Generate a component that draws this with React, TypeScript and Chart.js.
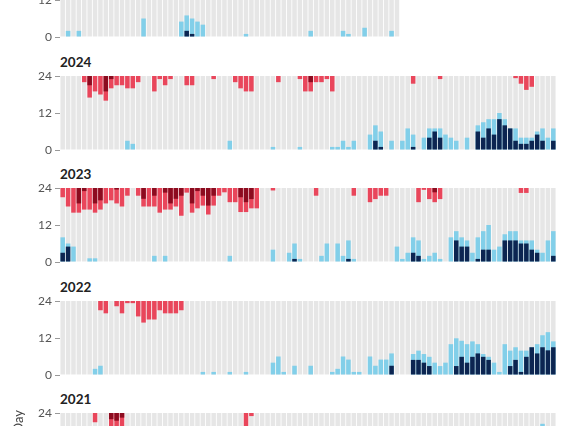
import React, { useEffect, useRef } from "react";
import { Chart, registerables } from "chart.js";

Chart.register(...registerables);

// ---------- data ----------
const N_DAYS = 92;
const dayLabels: string[] = Array.from({ length: N_DAYS }, (_, i) => `Day ${i + 1}`);
const yTicks = [0, 12, 24];

// [day index, hours]
const red2025: [number, number][] = [];
const dark2025: [number, number][] = [];
const blue2025: [number, number][] = [[1, 2], [3, 2], [15, 6], [22, 5], [23, 7], [24, 6], [25, 5], [26, 4], [34, 1], [46, 2], [52, 2], [53, 1], [56, 3], [61, 2]];
const navy2025: [number, number][] = [[23, 2], [24, 1]];

const red2024: [number, number][] = [[4, 2], [5, 7], [6, 5], [7, 6], [8, 8], [9, 4], [10, 3], [11, 3], [12, 4], [13, 4], [14, 2], [17, 5], [18, 1], [19, 3], [20, 1], [23, 3], [24, 3], [28, 1], [32, 2], [33, 4], [34, 5], [35, 5], [40, 2], [44, 1], [45, 5], [46, 5], [47, 2], [48, 2], [49, 1], [50, 5], [65, 2.5], [70, 1], [84, 0.7], [85, 2.5], [86, 4.5], [87, 3.5]];
const dark2024: [number, number][] = [[5, 3], [8, 5], [9, 1], [46, 2]];
const blue2024: [number, number][] = [[12, 3], [13, 2], [31, 3], [39, 1], [44, 1], [50, 1], [51, 1], [52, 3], [53, 1], [54, 3], [57, 5], [58, 8], [59, 6], [61, 3], [63, 3], [64, 7], [65, 5], [67, 4], [68, 7], [69, 7], [70, 7], [71, 5], [72, 4], [73, 3], [75, 4], [77, 8], [78, 9], [79, 10], [80, 10], [81, 12], [82, 10], [83, 7], [84, 7], [85, 4], [86, 4], [87, 4], [88, 6], [89, 7], [90, 4], [91, 7]];
const navy2024: [number, number][] = [[58, 3], [59, 1], [65, 1], [68, 4], [69, 6], [70, 4], [77, 6], [78, 4], [79, 7], [80, 5], [81, 10], [82, 8], [83, 7], [84, 3], [85, 2], [86, 2], [87, 3], [88, 5], [89, 3], [91, 3]];

const red2023: [number, number][] = [[0, 3], [1, 6], [2, 8], [3, 8], [4, 7], [5, 7], [6, 8], [7, 7], [8, 5], [9, 4], [10, 5], [11, 6], [12, 2.5], [14, 2.5], [15, 6], [16, 6], [17, 6], [18, 8], [19, 7], [20, 7], [21, 6], [22, 9], [23, 1.5], [24, 8], [25, 6.6], [26, 5.7], [27, 8.6], [28, 5.7], [29, 2.5], [30, 1.4], [31, 4.6], [32, 4.6], [33, 7.8], [34, 7.8], [35, 6.6], [36, 6.6], [39, 0.8], [47, 2.5], [54, 2.5], [57, 4.6], [58, 3.6], [59, 2.5], [60, 2.5], [66, 4.6], [67, 0.6], [68, 3.6], [69, 4.6], [70, 3.6], [85, 1.6], [86, 1.6]];
const dark2023: [number, number][] = [[3, 5], [4, 1], [6, 5], [7, 4], [10, 0.5], [15, 3.5], [17, 2.5], [19, 1.5], [20, 5], [21, 3.5], [22, 2.5], [24, 5], [25, 1], [26, 2.5], [27, 5.7], [28, 2.5], [33, 3], [34, 4.6], [35, 3.6], [69, 1.4]];
const blue2023: [number, number][] = [[0, 8], [1, 6], [2, 5], [5, 1.2], [6, 1.2], [17, 2], [19, 2], [31, 2], [39, 4], [42, 3], [43, 6], [44, 1], [48, 2], [49, 6], [51, 6], [52, 2], [53, 7], [54, 1], [62, 5], [63, 1], [64, 3], [65, 8], [66, 7], [67, 1], [68, 2], [69, 3], [70, 1], [72, 8], [73, 10], [74, 8], [75, 7], [76, 3], [77, 8], [78, 10], [79, 12], [80, 4], [81, 5], [82, 9], [83, 10], [84, 10], [85, 7], [86, 7], [87, 7], [88, 4], [89, 3], [90, 7], [91, 10]];
const navy2023: [number, number][] = [[0, 3], [1, 5], [43, 1], [53, 1], [65, 3], [66, 2], [73, 7], [74, 5], [75, 5], [77, 1], [78, 4], [79, 4], [82, 7], [83, 7], [84, 7], [85, 6], [86, 6], [87, 4], [88, 3], [91, 2]];

const red2022: [number, number][] = [[7, 3], [8, 4], [10, 1.7], [11, 4], [12, 0.7], [13, 0.7], [14, 5], [15, 7], [16, 6], [17, 6], [18, 3], [19, 4], [20, 4], [21, 4], [22, 3]];
const dark2022: [number, number][] = [];
const blue2022: [number, number][] = [[6, 2], [7, 3], [26, 1], [28, 1], [31, 1], [34, 1], [39, 4], [40, 6], [41, 1], [43, 3], [46, 3], [50, 1], [51, 2], [52, 6], [53, 5], [54, 1], [55, 1], [57, 6], [58, 3], [59, 5], [60, 5], [61, 7], [65, 6.8], [66, 7.9], [67, 6.8], [68, 5.9], [69, 4], [70, 2.9], [71, 4], [72, 10], [73, 11.9], [74, 11.1], [75, 10], [76, 10.9], [77, 10], [78, 6.8], [79, 5.9], [80, 4], [81, 1], [82, 10], [83, 7.9], [84, 9], [85, 7.9], [86, 7.9], [87, 9], [88, 10], [89, 12.9], [90, 13.9], [91, 10.9]];
const navy2022: [number, number][] = [[61, 3], [65, 4.9], [66, 4.9], [67, 4], [68, 2.9], [73, 2.9], [74, 5.9], [75, 4], [76, 5.9], [77, 7], [78, 5.9], [79, 4.9], [83, 2.9], [84, 4.9], [85, 1], [86, 5.9], [87, 9], [88, 7], [89, 9], [90, 8], [91, 9]];

const red2021: [number, number][] = [[6, 3], [9, 6], [10, 6], [11, 5], [34, 6], [35, 1]];
const dark2021: [number, number][] = [[9, 2], [10, 2.5], [11, 1.5]];
const blue2021: [number, number][] = [[89, 20.5]];
const navy2021: [number, number][] = [];

// ---------- layout / style ----------
const PLOT_H = 74;
const PAD = 12;
const COLORS = {
  bg: "#e6e6e6",
  red: "#e9465b",
  dark: "#8c0b1f",
  blue: "#82cfe9",
  navy: "#0c2551",
};
const FONT = "Lato, 'Open Sans', sans-serif";

type PanelCfg = {
  year: string;
  top: number;
  avail: number;
  red: [number, number][];
  dark: [number, number][];
  blue: [number, number][];
  navy: [number, number][];
};

const panels: PanelCfg[] = [
  { year: "2025", top: -37, avail: 63, red: red2025, dark: dark2025, blue: blue2025, navy: navy2025 },
  { year: "2024", top: 76, avail: N_DAYS, red: red2024, dark: dark2024, blue: blue2024, navy: navy2024 },
  { year: "2023", top: 188, avail: N_DAYS, red: red2023, dark: dark2023, blue: blue2023, navy: navy2023 },
  { year: "2022", top: 301, avail: N_DAYS, red: red2022, dark: dark2022, blue: blue2022, navy: navy2022 },
  { year: "2021", top: 413, avail: N_DAYS, red: red2021, dark: dark2021, blue: blue2021, navy: navy2021 },
];

function toArr(pairs: [number, number][]): (number | null)[] {
  const a: (number | null)[] = new Array(N_DAYS).fill(null);
  for (const [i, v] of pairs) a[i] = v;
  return a;
}

function PanelChart({ cfg }: { cfg: PanelCfg }) {
  const ref = useRef<HTMLCanvasElement | null>(null);
  useEffect(() => {
    if (!ref.current) return;
    const bg = dayLabels.map((_, i) => (i < cfg.avail ? 24 : null));
    const hang = (pairs: [number, number][]) =>
      toArr(pairs).map((v) => (v == null ? null : ([24 - v, 24] as [number, number])));
    const chart = new Chart(ref.current, {
      type: "bar",
      data: {
        labels: dayLabels,
        datasets: [
          { data: bg as any, backgroundColor: COLORS.bg, order: 10 },
          { data: hang(cfg.red) as any, backgroundColor: COLORS.red, order: 4 },
          { data: hang(cfg.dark) as any, backgroundColor: COLORS.dark, order: 3 },
          { data: toArr(cfg.blue) as any, backgroundColor: COLORS.blue, order: 2 },
          { data: toArr(cfg.navy) as any, backgroundColor: COLORS.navy, order: 1 },
        ],
      },
      options: {
        responsive: false,
        animation: false,
        datasets: {
          bar: { grouped: false, barPercentage: 0.84, categoryPercentage: 1, borderWidth: 0 },
        } as any,
        layout: { padding: { left: 0, right: 12, top: PAD, bottom: PAD } },
        plugins: { legend: { display: false }, tooltip: { enabled: false } },
        scales: {
          x: { display: false },
          y: {
            min: 0,
            max: 24,
            afterFit: (s: any) => {
              s.width = 60;
            },
            afterBuildTicks: (s: any) => {
              s.ticks = yTicks.map((v) => ({ value: v }));
            },
            ticks: { font: { family: FONT, size: 12 }, color: "#555", padding: 3 },
            grid: { drawOnChartArea: false, drawTicks: true, tickLength: 5, color: "#999" },
            border: { display: false },
          },
        },
      },
    });
    return () => chart.destroy();
  }, [cfg]);
  return (
    <canvas
      ref={ref}
      width={568}
      height={PLOT_H + 2 * PAD}
      style={{ position: "absolute", left: 0, top: cfg.top - PAD, width: 568, height: PLOT_H + 2 * PAD }}
    />
  );
}

export default function App() {
  return (
    <div
      style={{
        position: "absolute",
        left: 0,
        top: 0,
        width: 568,
        height: 426,
        overflow: "hidden",
        background: "#fff",
        fontFamily: FONT,
      }}
    >
      {panels.map((p) => (
        <React.Fragment key={p.year}>
          <div
            style={{
              position: "absolute",
              left: 60,
              top: p.top - 22,
              fontWeight: 700,
              fontSize: 13.5,
              lineHeight: "16px",
              color: "#222",
            }}
          >
            {p.year}
          </div>
          <PanelChart cfg={p} />
        </React.Fragment>
      ))}
      <div
        style={{
          position: "absolute",
          left: 10,
          top: 410 + 200,
          width: 200,
          textAlign: "right",
          transform: "rotate(-90deg)",
          transformOrigin: "left top",
          fontSize: 13,
          lineHeight: "16px",
          color: "#444",
          whiteSpace: "nowrap",
        }}
      >
        Hours per Day
      </div>
    </div>
  );
}
